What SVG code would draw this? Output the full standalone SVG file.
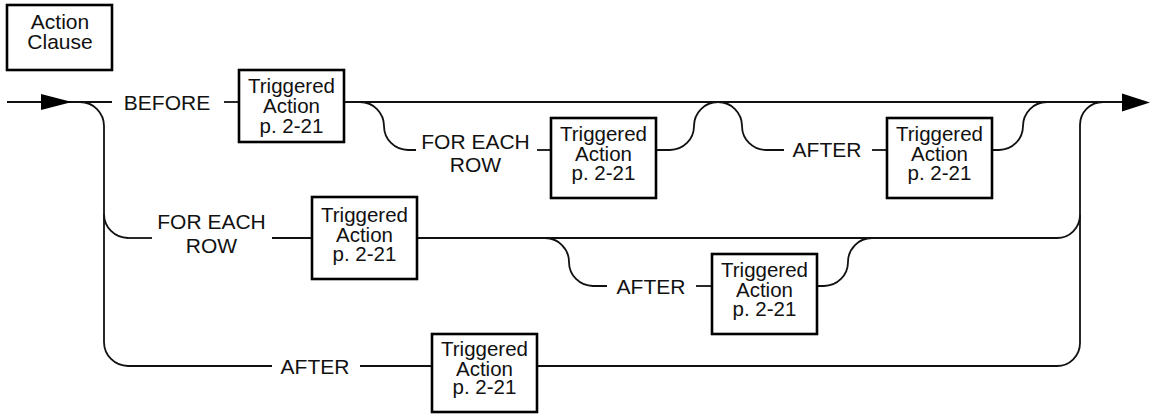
<svg xmlns="http://www.w3.org/2000/svg" width="1151" height="414" viewBox="0 0 1151 414">
<style>
  .box { fill: #fff; stroke: #000; stroke-width: 2.6; }
  .ln { fill: none; stroke: #111; stroke-width: 1.8; }
  .lbl { font-family: "Liberation Sans", Arial, sans-serif; font-size: 21px; fill: #111; text-anchor: middle; }
  .bt { font-family: "Liberation Sans", Arial, sans-serif; font-size: 20.5px; fill: #111; text-anchor: middle; }
  .arr { fill: #000; }
</style>
<rect width="1151" height="414" fill="#fff"/>

<g id="connectors">
  <path class="ln" d="M7,102 H112"/>
  <path class="ln" d="M224,102 H239"/>
  <path class="ln" d="M344,102 H1122"/>
  <polygon class="arr" points="41,94 72,102 41,110"/>
  <polygon class="arr" points="1122,93.5 1150,102.5 1122,111.5"/>
  <path class="ln" d="M80,102 A24,24 0 0 1 104,126 V342 A24,24 0 0 0 128,366"/>
  <path class="ln" d="M104,214 A24,24 0 0 0 128,238"/>
  <path class="ln" d="M1103,102 A23,23 0 0 0 1080,125 V343 A23,23 0 0 1 1057,366"/>
  <path class="ln" d="M1057,238 A23,23 0 0 0 1080,215"/>
  <path class="ln" d="M360,102 A24,24 0 0 1 384,126 A24,24 0 0 0 408,150 H416"/>
  <path class="ln" d="M537,150 H551"/>
  <path class="ln" d="M656,150 H670 A24,24 0 0 0 694,126 A24,24 0 0 1 718,102 A24,24 0 0 1 742,126 A24,24 0 0 0 766,150 H784"/>
  <path class="ln" d="M872,150 H887"/>
  <path class="ln" d="M992,150 H999 A24,24 0 0 0 1023,126 A24,24 0 0 1 1047,102"/>
  <path class="ln" d="M128,238 H152"/>
  <path class="ln" d="M272,238 H312"/>
  <path class="ln" d="M417,238 H1057"/>
  <path class="ln" d="M545,238 A24,24 0 0 1 569,262 A24,24 0 0 0 593,286 H607"/>
  <path class="ln" d="M696,286 H712"/>
  <path class="ln" d="M817,286 H824 A24,24 0 0 0 848,262 A24,24 0 0 1 872,238"/>
  <path class="ln" d="M128,366 H272"/>
  <path class="ln" d="M360,366 H432"/>
  <path class="ln" d="M537,366 H1057"/>
</g>

<g id="legend">
  <rect class="box" x="7" y="5" width="105" height="65"/>
  <text class="lbl" x="60" y="29">Action<tspan x="60" dy="20">Clause</tspan></text>
</g>

<g id="lbl-before"><text class="lbl" x="167" y="109.5">BEFORE</text></g>
<g id="lbl-foreach1"><text class="lbl" x="475.5" y="149">FOR EACH<tspan x="475.5" dy="23">ROW</tspan></text></g>
<g id="lbl-after1"><text class="lbl" x="827" y="157">AFTER</text></g>
<g id="lbl-foreach2"><text class="lbl" x="211.5" y="229">FOR EACH<tspan x="211.5" dy="24">ROW</tspan></text></g>
<g id="lbl-after2"><text class="lbl" x="651" y="293.5">AFTER</text></g>
<g id="lbl-after3"><text class="lbl" x="315" y="373.5">AFTER</text></g>

<g id="ta1">
  <rect class="box" x="239" y="70" width="105" height="72"/>
  <text class="bt" x="291.5" y="93">Triggered<tspan x="291.5" dy="20">Action</tspan><tspan x="291.5" dy="20">p. 2-21</tspan></text>
</g>
<g id="ta2">
  <rect class="box" x="551" y="118" width="105" height="80"/>
  <text class="bt" x="603.5" y="141">Triggered<tspan x="603.5" dy="20">Action</tspan><tspan x="603.5" dy="19">p. 2-21</tspan></text>
</g>
<g id="ta3">
  <rect class="box" x="887" y="118" width="105" height="80"/>
  <text class="bt" x="939.5" y="141">Triggered<tspan x="939.5" dy="20">Action</tspan><tspan x="939.5" dy="19">p. 2-21</tspan></text>
</g>
<g id="ta4">
  <rect class="box" x="312" y="197" width="105" height="82"/>
  <text class="bt" x="364.5" y="222">Triggered<tspan x="364.5" dy="20">Action</tspan><tspan x="364.5" dy="19">p. 2-21</tspan></text>
</g>
<g id="ta6">
  <rect class="box" x="712" y="254" width="105" height="80"/>
  <text class="bt" x="764.5" y="277">Triggered<tspan x="764.5" dy="20">Action</tspan><tspan x="764.5" dy="19">p. 2-21</tspan></text>
</g>
<g id="ta5">
  <rect class="box" x="432" y="334" width="105" height="78"/>
  <text class="bt" x="484.5" y="356">Triggered<tspan x="484.5" dy="20">Action</tspan><tspan x="484.5" dy="18">p. 2-21</tspan></text>
</g>
</svg>
